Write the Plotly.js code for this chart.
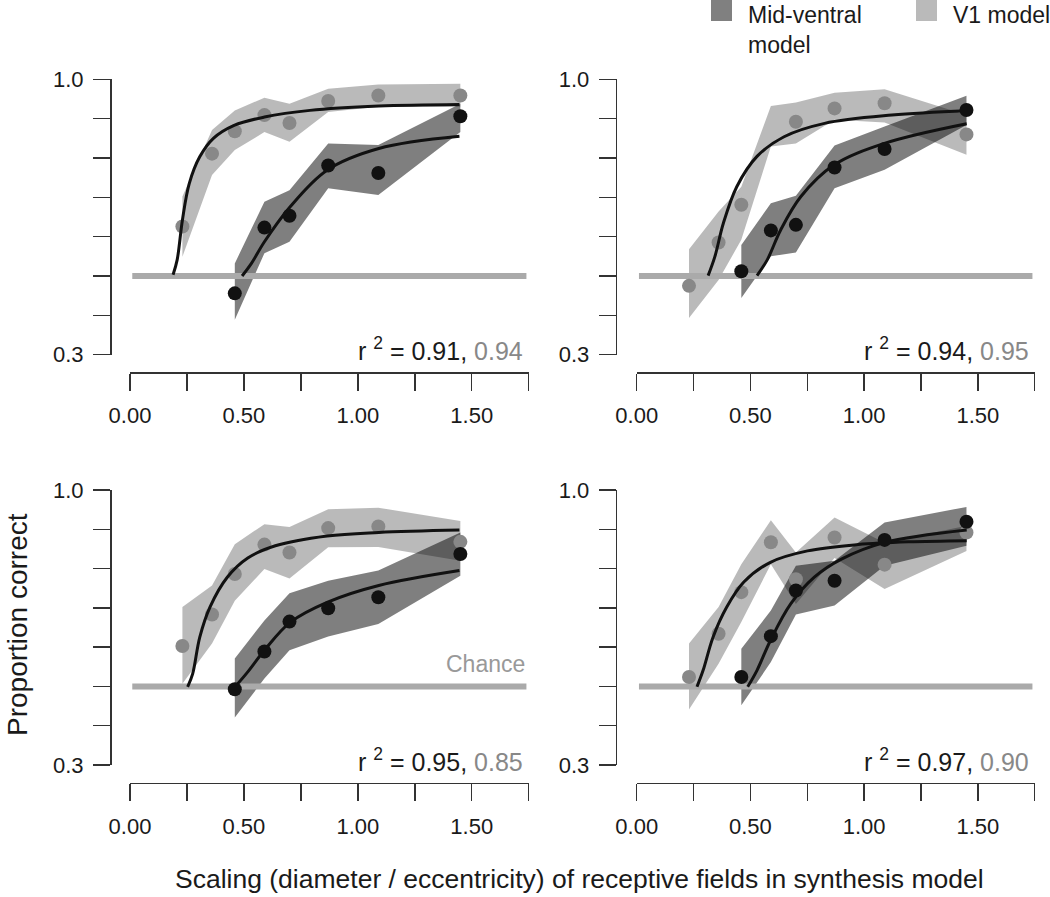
<!DOCTYPE html>
<html>
<head>
<meta charset="utf-8">
<script src="https://cdn.plot.ly/plotly-3.0.1.min.js"></script>
<style>body{margin:0;background:#fff}</style>
</head>
<body>
<div id="myPlot" style="width:1050px;height:897px"></div>
<script>
// scaling values tested (x), one row per panel for the y data
const scalingV1 = [0.23, 0.36, 0.46, 0.59, 0.70, 0.87, 1.09, 1.45];
const scalingMV = [0.46, 0.59, 0.70, 0.87, 1.09, 1.45];

// V1 model (light grey)
const v1Mean = [
    [0.626, 0.811, 0.868, 0.909, 0.889, 0.945, 0.959, 0.959],
    [0.475, 0.585, 0.681, null, 0.892, 0.926, 0.939, 0.860],
    [0.603, 0.683, 0.786, 0.861, 0.841, 0.903, 0.907, 0.868],
    [0.524, 0.634, 0.740, 0.867, 0.773, 0.879, 0.810, 0.892]
];
const v1Upper = [
    [0.702, 0.871, 0.921, 0.953, 0.938, 0.976, 0.987, 0.989],
    [0.568, 0.664, 0.727, 0.932, 0.941, 0.966, 0.975, 0.909],
    [0.702, 0.757, 0.862, 0.913, 0.906, 0.951, 0.955, 0.921],
    [0.609, 0.702, 0.811, 0.923, 0.841, 0.930, 0.866, 0.909]
];
const v1Lower = [
    [0.549, 0.757, 0.820, 0.866, 0.841, 0.917, 0.930, 0.930],
    [0.393, 0.490, 0.592, 0.829, 0.837, 0.897, 0.890, 0.808],
    [0.507, 0.609, 0.718, 0.799, 0.775, 0.854, 0.855, 0.820],
    [0.441, 0.558, 0.664, 0.811, 0.710, 0.827, 0.748, 0.845]
];

// Mid-ventral model (dark grey)
const mvMean = [
    [0.456, 0.623, 0.653, 0.781, 0.762, 0.906],
    [0.512, 0.616, 0.630, 0.776, 0.823, 0.922],
    [0.493, 0.589, 0.665, 0.699, 0.727, 0.837],
    [0.524, 0.628, 0.744, 0.769, 0.873, 0.919]
];
const mvUpper = [
    [0.532, 0.689, 0.718, 0.837, 0.833, 0.938],
    [0.579, 0.685, 0.704, 0.832, 0.880, 0.958],
    [0.571, 0.668, 0.737, 0.769, 0.795, 0.892],
    [0.596, 0.693, 0.807, 0.820, 0.917, 0.957]
];
const mvLower = [
    [0.389, 0.558, 0.587, 0.723, 0.706, 0.866],
    [0.444, 0.550, 0.560, 0.723, 0.770, 0.884],
    [0.421, 0.520, 0.592, 0.627, 0.659, 0.782],
    [0.452, 0.562, 0.683, 0.706, 0.807, 0.858]
];

// fitted curves
const v1FitX = [
    [0.189, 0.207, 0.230, 0.260, 0.306, 0.366, 0.457, 0.590, 0.790, 1.092, 1.446],
    [0.314, 0.344, 0.381, 0.440, 0.529, 0.648, 0.826, 1.122, 1.451],
    [0.253, 0.275, 0.306, 0.351, 0.427, 0.517, 0.638, 0.865, 1.092, 1.446],
    [0.265, 0.292, 0.336, 0.396, 0.470, 0.588, 0.751, 0.974, 1.196, 1.451]
];
const v1FitY = [
    [0.503, 0.541, 0.642, 0.735, 0.803, 0.850, 0.883, 0.904, 0.921, 0.932, 0.936],
    [0.501, 0.550, 0.634, 0.727, 0.804, 0.854, 0.888, 0.909, 0.920],
    [0.499, 0.532, 0.625, 0.702, 0.778, 0.827, 0.858, 0.883, 0.892, 0.898],
    [0.499, 0.541, 0.626, 0.702, 0.765, 0.816, 0.845, 0.861, 0.868, 0.871]
];
const mvFitX = [
    [0.492, 0.533, 0.590, 0.703, 0.865, 1.092, 1.446],
    [0.529, 0.574, 0.633, 0.722, 0.867, 1.089, 1.451],
    [0.461, 0.517, 0.590, 0.703, 0.865, 1.092, 1.446],
    [0.488, 0.529, 0.588, 0.677, 0.781, 0.900, 1.089, 1.451]
];
const mvFitY = [
    [0.500, 0.532, 0.587, 0.676, 0.769, 0.824, 0.855],
    [0.501, 0.541, 0.617, 0.702, 0.782, 0.837, 0.887],
    [0.499, 0.537, 0.592, 0.663, 0.714, 0.757, 0.795],
    [0.499, 0.541, 0.617, 0.710, 0.778, 0.824, 0.866, 0.898]
];

const r2MV = ["0.91", "0.94", "0.95", "0.97"];
const r2V1 = ["0.94", "0.95", "0.85", "0.90"];

const chanceLevel = 0.5;
const chanceX = [0.01, 1.74];

const xTicks = [0, 0.25, 0.5, 0.75, 1.0, 1.25, 1.5, 1.75];
const xTickText = ["0.00", "", "0.50", "", "1.00", "", "1.50", ""];
const yTicks = [0.3, 0.4, 0.5, 0.6, 0.7, 0.8, 0.9, 1.0];
const yTickText = ["0.3", "", "", "", "", "", "", "1.0"];

// page geometry (pixels)
const W = 1050, H = 897;
const font = "Liberation Sans, Arial, sans-serif";
const colX = [[130, 528.7], [636.7, 1034.7]];
const rowY = [[79.3, 354.7], [490, 765]];
const xLineY = [372.3, 782.7];
const yLineX = [110, 615.7];

const lightFill = "rgba(0,0,0,0.27)";
const darkFill = "rgba(0,0,0,0.5)";

function band(xs, up, lo, color, xa, ya) {
    return {
        x: xs.concat(xs.slice().reverse()),
        y: up.concat(lo.slice().reverse()),
        xaxis: xa, yaxis: ya,
        mode: "lines", fill: "toself", fillcolor: color,
        line: { width: 0 }, hoverinfo: "skip"
    };
}

const data = [];
const layout = {
    width: W, height: H,
    margin: { l: 0, r: 0, t: 0, b: 0 },
    paper_bgcolor: "white", plot_bgcolor: "rgba(0,0,0,0)",
    showlegend: false,
    font: { family: font, size: 22, color: "#1a1a1a" },
    annotations: [], shapes: []
};

for (let i = 0; i < 4; i++) {
    const n = i === 0 ? "" : String(i + 1);
    const xa = "x" + n, ya = "y" + n;
    const c = i % 2, r = Math.floor(i / 2);

    data.push(band(scalingV1, v1Upper[i], v1Lower[i], lightFill, xa, ya));
    data.push(band(scalingMV, mvUpper[i], mvLower[i], darkFill, xa, ya));
    data.push({
        x: chanceX, y: [chanceLevel, chanceLevel], xaxis: xa, yaxis: ya,
        mode: "lines", line: { color: "#aaaaaa", width: 6 }, hoverinfo: "skip"
    });
    data.push({
        x: scalingV1, y: v1Mean[i], xaxis: xa, yaxis: ya,
        mode: "markers", marker: { color: "#888888", size: 14 }
    });
    data.push({
        x: v1FitX[i], y: v1FitY[i], xaxis: xa, yaxis: ya,
        mode: "lines", line: { color: "#111111", width: 3, shape: "spline" }
    });
    data.push({
        x: mvFitX[i], y: mvFitY[i], xaxis: xa, yaxis: ya,
        mode: "lines", line: { color: "#111111", width: 3, shape: "spline" }
    });
    data.push({
        x: scalingMV, y: mvMean[i], xaxis: xa, yaxis: ya,
        mode: "markers", marker: { color: "#111111", size: 14 }
    });

    const axisStyle = {
        showline: true, linecolor: "#333333", linewidth: 1.5,
        ticks: "outside", ticklen: 17, tickwidth: 1.5, tickcolor: "#333333",
        showgrid: false, zeroline: false, fixedrange: true,
        tickfont: { family: font, size: 22, color: "#1a1a1a" }
    };
    layout["xaxis" + n] = Object.assign({}, axisStyle, {
        domain: [colX[c][0] / W, colX[c][1] / W],
        range: [0, 1.75], anchor: "free", position: 1 - xLineY[r] / H,
        tickvals: xTicks, ticktext: xTickText, ticklabelstandoff: 6
    });
    layout["yaxis" + n] = Object.assign({}, axisStyle, {
        domain: [1 - rowY[r][1] / H, 1 - rowY[r][0] / H],
        range: [0.3, 1.0], anchor: "free", position: yLineX[c] / W,
        tickvals: yTicks, ticktext: yTickText, ticklabelstandoff: 5
    });

    layout.annotations.push({
        xref: xa, yref: ya, x: 1.735, y: 0.314,
        xanchor: "right", yanchor: "middle", showarrow: false,
        text: "r <sup>2</sup> = " + r2MV[i] + ", <span style='color:#888888'>" + r2V1[i] + "</span>",
        font: { family: font, size: 25, color: "#1a1a1a" }
    });
}

// chance label, bottom-left panel
layout.annotations.push({
    xref: "x3", yref: "y3", x: 1.743, y: 0.518,
    xanchor: "right", yanchor: "bottom", showarrow: false,
    text: "Chance", font: { family: font, size: 23, color: "#999999" }
});

// shared axis titles
layout.annotations.push({
    xref: "paper", yref: "paper", x: 17 / W, y: 1 - 625 / H,
    xanchor: "center", yanchor: "middle", showarrow: false, textangle: -90,
    text: "Proportion correct", font: { family: font, size: 28, color: "#1a1a1a" }
});
layout.annotations.push({
    xref: "paper", yref: "paper", x: 579 / W, y: 1 - 879 / H,
    xanchor: "center", yanchor: "middle", showarrow: false,
    text: "Scaling (diameter / eccentricity) of receptive fields in synthesis model",
    font: { family: font, size: 26.5, color: "#1a1a1a" }
});

// legend at the top
layout.shapes.push({
    type: "rect", xref: "paper", yref: "paper",
    x0: 711 / W, x1: 732 / W, y0: 1 - 21 / H, y1: 1,
    fillcolor: "#808080", line: { width: 0 }
});
layout.shapes.push({
    type: "rect", xref: "paper", yref: "paper",
    x0: 916 / W, x1: 937 / W, y0: 1 - 21 / H, y1: 1,
    fillcolor: "#bababa", line: { width: 0 }
});
layout.annotations.push({
    xref: "paper", yref: "paper", x: 746 / W, y: 1,
    xanchor: "left", yanchor: "top", align: "left", showarrow: false,
    text: "Mid-ventral<br>model", font: { family: font, size: 23, color: "#1a1a1a" }
});
layout.annotations.push({
    xref: "paper", yref: "paper", x: 951 / W, y: 1,
    xanchor: "left", yanchor: "top", align: "left", showarrow: false,
    text: "V1 model", font: { family: font, size: 23, color: "#1a1a1a" }
});

Plotly.newPlot("myPlot", data, layout, { staticPlot: true });
</script>
</body>
</html>
